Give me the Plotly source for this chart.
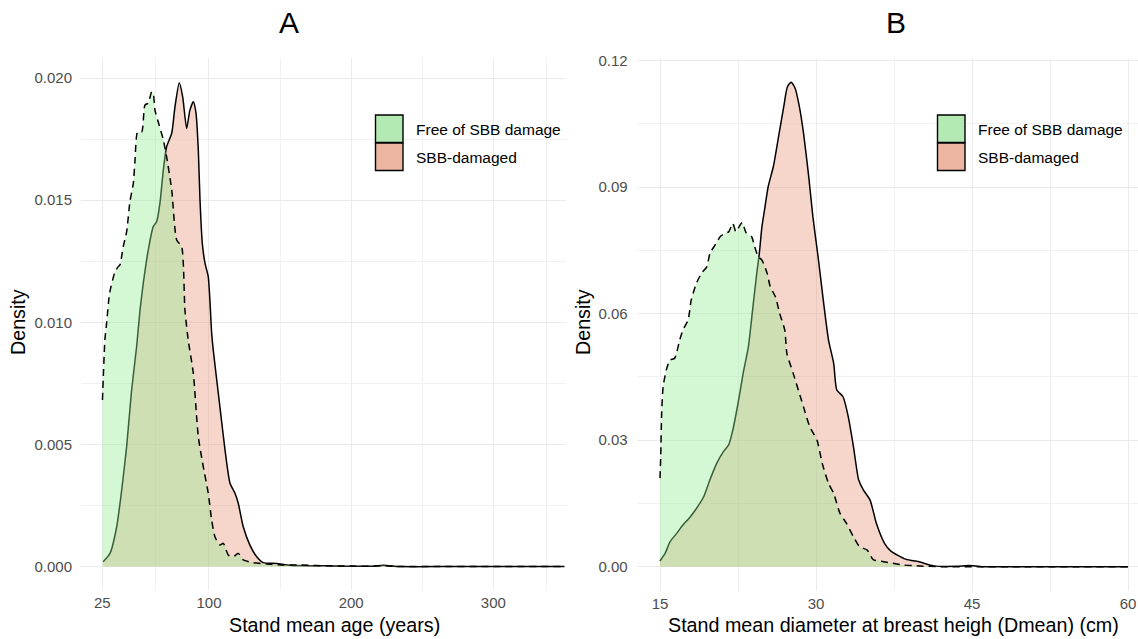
import plotly.graph_objects as go

# ---- Panel A: stand mean age (years) ----
age_free_x = [25.1, 26.8, 28.0, 29.9, 31.1, 33.9, 36.2, 37.4, 39.7, 42.1, 44.4, 46.8, 48.0, 49.8,
              52.7, 55.0, 57.3, 59.7, 60.8, 62.0, 64.3, 67.9, 70.2, 73.8, 77.3, 80.8, 83.1, 85.4,
              89.0, 92.5, 96.0, 99.5, 101.9, 104.2, 107.7, 110.1, 113.6, 117.1, 120.6, 124.1,
              131.2, 140.6, 152.3, 164.0, 187.4, 199.2, 215.0, 222.0, 230.0, 260.0, 300.0, 350.0]
age_free_y = [0.00682, 0.00928, 0.00996, 0.01112, 0.01146, 0.01207, 0.01228, 0.01235, 0.01310,
              0.01371, 0.01494, 0.01569, 0.01665, 0.01780, 0.01780, 0.01890, 0.01897, 0.01944,
              0.01938, 0.01869, 0.01821, 0.01747, 0.01678, 0.01542, 0.01337, 0.01310, 0.01050,
              0.00928, 0.00791, 0.00532, 0.00409, 0.00300, 0.00190, 0.00122, 0.00088, 0.00095,
              0.00047, 0.00040, 0.00054, 0.00027, 0.00016, 0.00010, 0.00006, 0.00006, 0.00002,
              0.00002, 0.00001, 0.00004, 0.00001, 0.00000, 0.00000, 0.00000]

age_dmg_x = [25.6, 30.4, 35.1, 38.6, 42.1, 45.6, 49.1, 51.5, 53.8, 57.3, 60.8, 63.2, 65.5, 67.9,
             70.2, 73.8, 76.1, 79.1, 81.5, 84.3, 86.6, 89.0, 90.9, 92.5, 93.7, 95.3, 97.2, 99.5,
             101.9, 103.0, 107.7, 111.3, 114.8, 118.3, 120.6, 124.1, 128.8, 133.6, 138.2, 147.6,
             157.0, 181.0, 215.0, 222.6, 234.0, 270.0, 310.0, 350.0]
age_dmg_y = [0.00020, 0.00054, 0.00163, 0.00313, 0.00491, 0.00723, 0.00900, 0.01050, 0.01160,
             0.01296, 0.01392, 0.01412, 0.01487, 0.01624, 0.01719, 0.01774, 0.01883, 0.01981,
             0.01924, 0.01794, 0.01869, 0.01903, 0.01856, 0.01706, 0.01501, 0.01324, 0.01242,
             0.01187, 0.00955, 0.00887, 0.00654, 0.00477, 0.00341, 0.00300, 0.00259, 0.00163,
             0.00088, 0.00040, 0.00016, 0.00013, 0.00005, 0.00003, 0.00001, 0.00005, 0.00000,
             0.00000, 0.00000, 0.00000]

# ---- Panel B: stand mean diameter (cm) ----
dbh_free_x = [15.0, 15.07, 15.16, 15.3, 15.6, 15.96, 16.4, 16.9, 17.2, 17.7, 18.0, 18.5, 18.99,
              19.5, 19.8, 20.3, 20.8, 21.25, 21.6, 22.0, 22.3, 22.6, 22.9, 23.3, 23.8, 24.1,
              24.45, 24.8, 25.3, 25.6, 26.1, 26.5, 27.0, 27.2, 27.8, 28.5, 28.8, 29.4, 30.1,
              30.6, 31.2, 31.7, 32.3, 32.95, 33.6, 34.2, 34.9, 35.5, 36.5, 37.4, 38.4, 39.7,
              42.2, 45.0, 50.0, 60.0]
dbh_free_y = [0.0210, 0.0261, 0.0364, 0.0427, 0.0466, 0.0490, 0.0494, 0.0538, 0.0561, 0.0585,
              0.0632, 0.0672, 0.0696, 0.0711, 0.0743, 0.0763, 0.0783, 0.0791, 0.0794, 0.0814,
              0.0794, 0.0806, 0.0816, 0.0791, 0.0783, 0.0759, 0.0735, 0.0727, 0.0696, 0.0664,
              0.0640, 0.0601, 0.0561, 0.0506, 0.0459, 0.0403, 0.0379, 0.0332, 0.0300, 0.0245,
              0.0198, 0.0174, 0.0127, 0.0102, 0.0071, 0.0047, 0.0040, 0.0017, 0.0012, 0.0008,
              0.0004, 0.0002, 0.0000, 0.0000, 0.0000, 0.0000]

dbh_dmg_x = [15.0, 15.5, 15.96, 16.6, 17.2, 17.9, 18.5, 19.2, 19.8, 20.45, 21.1, 21.6, 22.0,
             22.5, 23.0, 23.5, 23.97, 24.3, 24.55, 24.8, 25.1, 25.4, 25.9, 26.4, 26.9, 27.25,
             27.6, 28.0, 28.4, 28.8, 29.3, 29.7, 30.2, 30.7, 31.2, 31.7, 32.0, 32.6, 33.1, 33.6,
             34.1, 34.55, 35.2, 35.8, 36.6, 37.2, 38.6, 40.0, 41.3, 43.5, 44.8, 46.0, 50.0, 60.0]
dbh_dmg_y = [0.00135, 0.0032, 0.0059, 0.0079, 0.0099, 0.0118, 0.0138, 0.0166, 0.0206, 0.0245,
             0.0273, 0.0289, 0.0324, 0.0387, 0.0459, 0.0522, 0.0624, 0.0695, 0.0743, 0.0806,
             0.0854, 0.0901, 0.0949, 0.1020, 0.1091, 0.1138, 0.1149, 0.1134, 0.1091, 0.1028,
             0.0925, 0.0830, 0.0735, 0.0632, 0.0538, 0.0482, 0.0419, 0.0403, 0.0356, 0.0285,
             0.0206, 0.0182, 0.0158, 0.0103, 0.0055, 0.0037, 0.0018, 0.0011, 0.0002, 0.0001,
             0.0003, 0.0000, 0.0000, 0.0000]

group_names = ["Free of SBB damage", "SBB-damaged"]
fill_colors = ["rgba(144,238,144,0.40)", "rgba(233,150,122,0.40)"]
key_colors = ["#b3eab3", "#ecb6a2"]
line_dashes = ["7px,5px", "solid"]
# damaged stands are drawn first so the undamaged layer sits on top
draw_order = [1, 0]

age_ticks = [25, 100, 200, 300]
age_minor = [62.5, 150, 250, 337.5]
age_yticks = [0.000, 0.005, 0.010, 0.015, 0.020]
age_yminor = [0.0025, 0.0075, 0.0125, 0.0175]
dbh_ticks = [15, 30, 45, 60]
dbh_minor = [22.5, 37.5, 52.5]
dbh_yticks = [0.00, 0.03, 0.06, 0.09, 0.12]
dbh_yminor = [0.015, 0.045, 0.075, 0.105]

W, H = 1138, 639
FONT = "Liberation Sans, Arial, sans-serif"


def px(x):
    return x / W


def py(y):
    return 1 - y / H


fig = go.Figure()

panels = [
    ("x", "y", [(age_free_x, age_free_y), (age_dmg_x, age_dmg_y)]),
    ("x2", "y2", [(dbh_free_x, dbh_free_y), (dbh_dmg_x, dbh_dmg_y)]),
]
for xa, ya, series in panels:
    for i in draw_order:
        xs, ys = series[i]
        fig.add_trace(go.Scatter(
            x=xs, y=ys, xaxis=xa, yaxis=ya, mode="lines",
            line=dict(color="black", width=1.5, dash=line_dashes[i], shape="spline", smoothing=0.6),
            fill="tozeroy", fillcolor=fill_colors[i], name=group_names[i], showlegend=False,
            hoverinfo="skip",
        ))

grid = "#ebebeb"
axis_common = dict(showline=False, zeroline=False, ticks="", showgrid=True, gridcolor=grid,
                   gridwidth=1.1, automargin=False,
                   tickfont=dict(family=FONT, size=15, color="#4d4d4d"))
minor_grid = dict(showgrid=True, gridcolor="#f1f1f1", gridwidth=0.8, tickmode="array")

fig.update_layout(
    width=W, height=H, autosize=False, margin=dict(l=0, r=0, t=0, b=0, pad=0, autoexpand=False),
    paper_bgcolor="white", plot_bgcolor="white", showlegend=False,
    font=dict(family=FONT),
    xaxis=dict(domain=[px(81), px(566)], range=[10.0, 351.1], tickmode="array", tickvals=age_ticks,
               ticktext=[str(v) for v in age_ticks], ticklabelstandoff=2,
               minor=dict(tickvals=age_minor, **minor_grid), anchor="y", **axis_common),
    yaxis=dict(domain=[py(590), py(58)], range=[-0.00096, 0.020823], tickmode="array",
               tickvals=age_yticks, tickformat=".3f", ticklabelstandoff=8,
               minor=dict(tickvals=age_yminor, **minor_grid), anchor="x", **axis_common),
    xaxis2=dict(domain=[px(636.7), 1.0], range=[12.76, 60.96], tickmode="array", tickvals=dbh_ticks,
                ticktext=[str(v) for v in dbh_ticks], ticklabelstandoff=2,
                minor=dict(tickvals=dbh_minor, **minor_grid), anchor="y2", **axis_common),
    yaxis2=dict(domain=[py(591), py(58)], range=[-0.00576, 0.12063], tickmode="array",
                tickvals=dbh_yticks, tickformat=".2f", ticklabelstandoff=8,
                minor=dict(tickvals=dbh_yminor, **minor_grid), anchor="x2", **axis_common),
)

annotations = []
shapes = []


def text(x, y, s, size, angle=0, xanchor="center"):
    annotations.append(dict(x=px(x), y=py(y), xref="paper", yref="paper", text=s, showarrow=False,
                            textangle=angle, xanchor=xanchor, yanchor="middle",
                            font=dict(family=FONT, size=size, color="black")))


# panel titles
text(289, 23, "A", 30)
text(896, 23, "B", 30)
# axis titles
text(334, 625, "Stand mean age (years)", 19.7)
text(893, 625, "Stand mean diameter at breast heigh (Dmean) (cm)", 19.7)
text(18, 322, "Density", 19.7, angle=-90)
text(583, 322, "Density", 19.7, angle=-90)

# legends (one per panel)
for lx, tx in [(375.5, 414), (937.5, 975.5)]:
    for i, name in enumerate(group_names):
        top = 115 + i * 28
        shapes.append(dict(type="rect", xref="paper", yref="paper", x0=px(lx), x1=px(lx + 27.5),
                           y0=py(top + 27.5), y1=py(top), fillcolor=key_colors[i],
                           line=dict(color="black", width=1.4)))
        text(tx, top + 14, name, 15.5, xanchor="left")

fig.update_layout(annotations=annotations, shapes=shapes)
fig.write_html("out.html")
